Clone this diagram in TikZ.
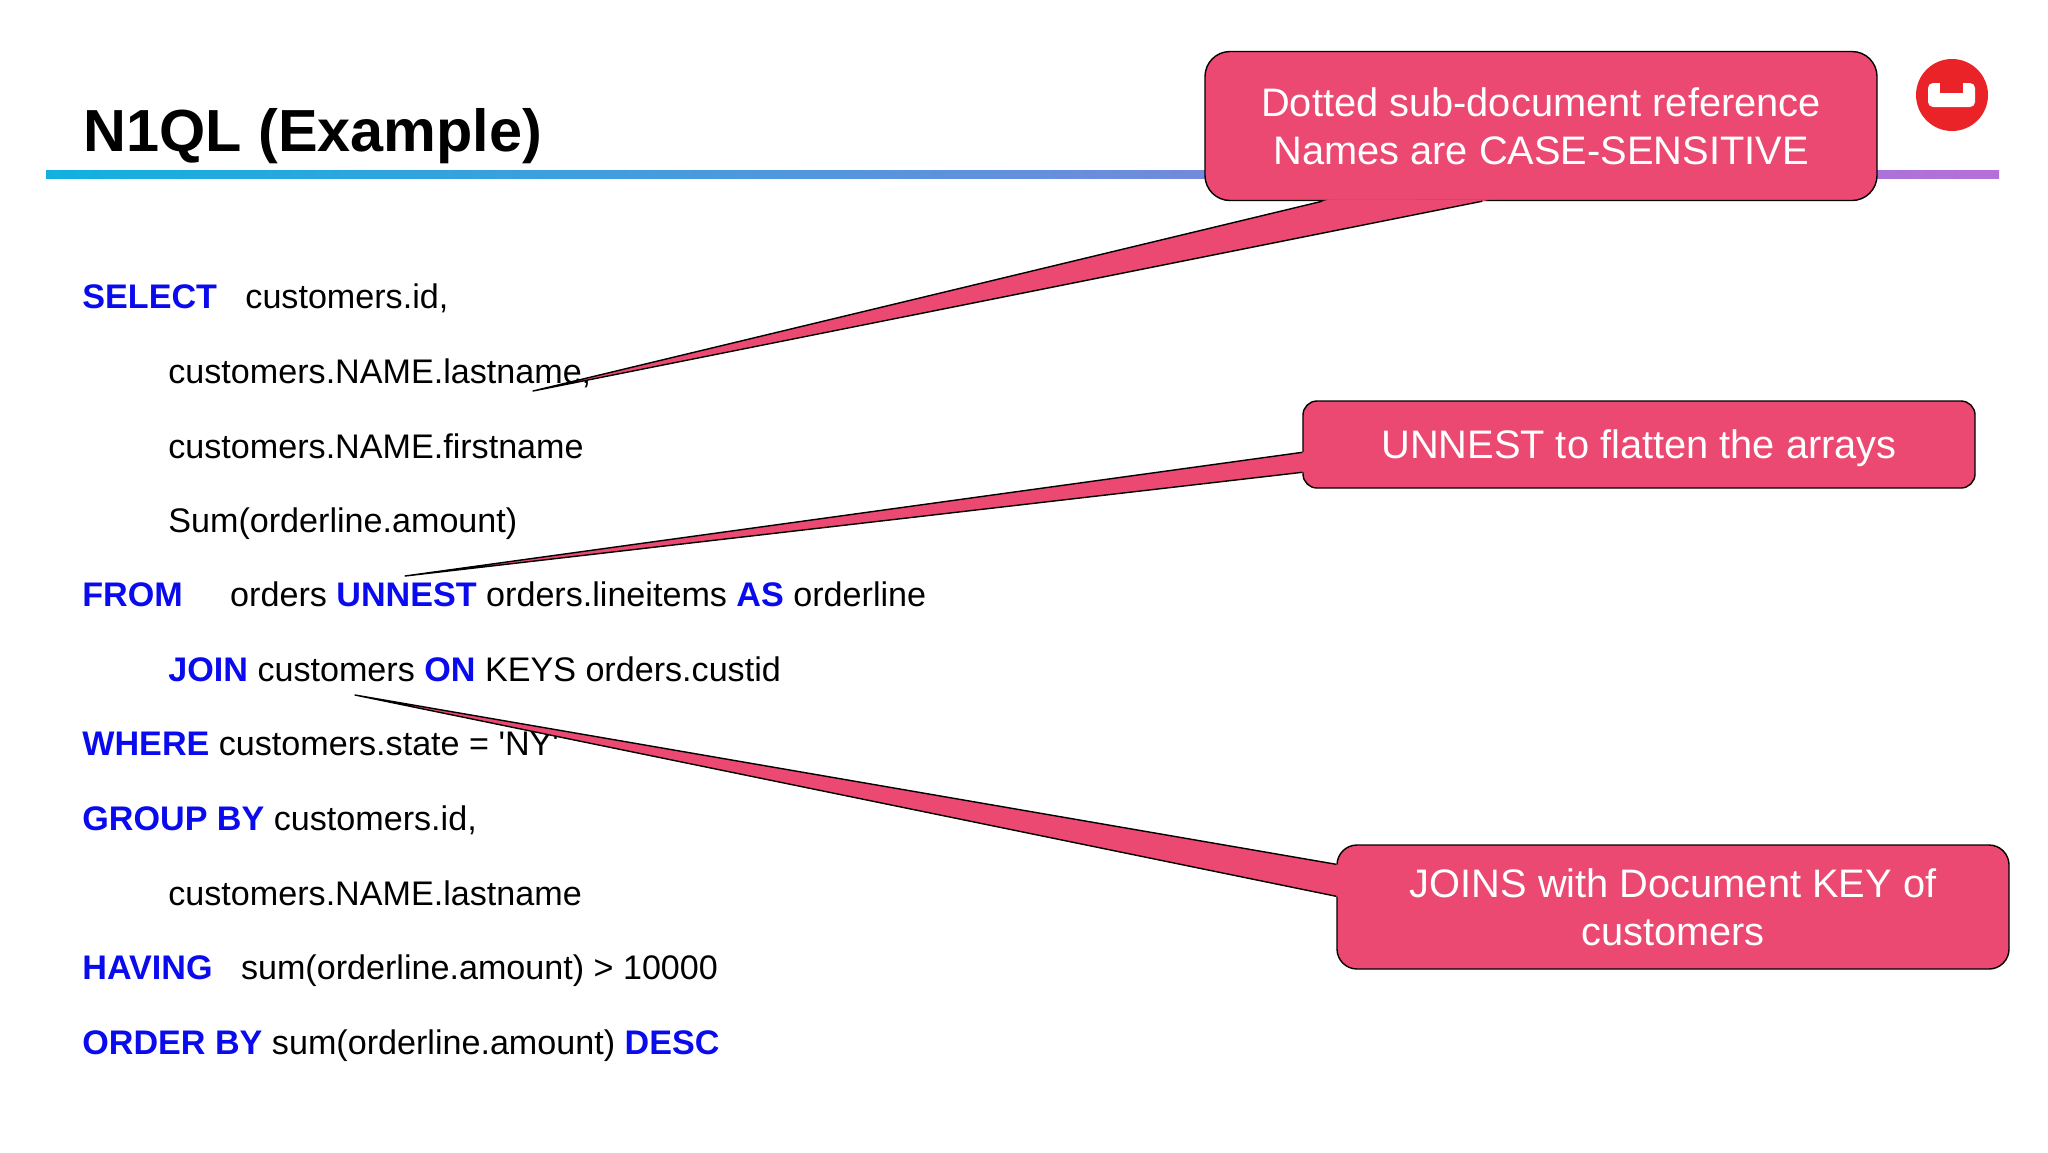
\documentclass[tikz,border=0pt]{standalone}
\usepackage{fontspec}
\setmainfont{Liberation Sans}
\usetikzlibrary{calc}
\definecolor{calloutpink}{HTML}{EB4971}
\definecolor{kwblue}{HTML}{0A0AEE}
\definecolor{logored}{HTML}{EA2328}
\definecolor{rulestart}{HTML}{12B0E0}
\definecolor{rulemid}{HTML}{6F9BE0}
\definecolor{ruleend}{HTML}{B56FD8}
\newcommand{\kw}[1]{\textcolor{kwblue}{\textbf{#1}}}
\newcommand{\tailfrom}[3]{%
  \fill[calloutpink] (#1) -- (#2) -- ($(#2)!-4pt!(#1)$) -- ($(#3)!-4pt!(#1)$) -- (#3) -- cycle;
  \draw[tailedge] (#2) -- (#1) -- (#3);}
\tikzset{
  x=0.5pt,y=-0.5pt,
  codeline/.style={anchor=base west,inner sep=0pt,font=\fontsize{17.06}{21}\selectfont},
  calloutbox/.style={draw=black,line width=0.7pt,fill=calloutpink,text=white,align=center,
    inner sep=0pt,font=\fontsize{19.9}{24}\selectfont},
  tailedge/.style={draw=black,line width=0.7pt,line join=round}
}
\begin{document}
\begin{tikzpicture}
  \useasboundingbox (0,0) rectangle (2048,1152);
  \node[anchor=base west,inner sep=0pt,font=\fontsize{29.7}{36}\selectfont\bfseries] (title) at (83,151) {N1QL (Example)};
  \shade[left color=rulestart,middle color=rulemid,right color=ruleend,shading angle=90] (46,170) rectangle (1999,178);

  % code lines
  \foreach \row/\xpos/\ypos/\txt in {%
    select/82/308/{\kw{SELECT}\ \ \ customers.id,},
    lastname/168/383/{customers.NAME.lastname,},
    firstname/168/458/{customers.NAME.firstname},
    sum/168/532/{Sum(orderline.amount)},
    from/82/606/{\kw{FROM}\ \ \ \ \ orders \kw{UNNEST} orders.lineitems \kw{AS} orderline},
    join/168/681/{\kw{JOIN} customers \kw{ON} KEYS orders.custid},
    where/82/755/{\kw{WHERE} customers.state = \textquotesingle NY\textquotesingle},
    group/82/830/{\kw{GROUP BY} customers.id,},
    lastnameb/168/905/{customers.NAME.lastname},
    having/82/979/{\kw{HAVING}\ \ \ sum(orderline.amount) > 10000},
    order/82/1054/{\kw{ORDER BY} sum(orderline.amount) \kw{DESC}}}
    \node[codeline] (\row) at (\xpos,\ypos) {\txt};

  % logo
  \node[circle,fill=logored,inner sep=0pt,minimum size=36pt] (logo) at (1952,95) {};
  \fill[white,rounded corners=2.5pt] (1928,83) rectangle (1975,107);
  \fill[logored] (1940,82) rectangle (1963,93);

  % callouts
  \node[calloutbox,minimum width=336pt,minimum height=74.5pt,rounded corners=12.5pt] (dotted) at (1541,126)
    {Dotted sub-document reference\\Names are CASE-SENSITIVE};
  \coordinate (dottedtip) at (533,391);
  \coordinate (dotteda) at ($(dotted.south west)+(118,0)$);
  \coordinate (dottedb) at ($(dotted.south west)+(278,0)$);
  \tailfrom{dottedtip}{dotteda}{dottedb}

  \node[calloutbox,minimum width=336pt,minimum height=43.5pt,rounded corners=7pt,text height=14pt,text depth=0pt] (unnest) at (1639,444.5)
    {UNNEST to flatten the arrays};
  \coordinate (unnesttip) at (405,576);
  \coordinate (unnesta) at ($(unnest.north west)+(0,52)$);
  \coordinate (unnestb) at ($(unnest.north west)+(0,72)$);
  \tailfrom{unnesttip}{unnesta}{unnestb}

  \node[calloutbox,minimum width=336pt,minimum height=62pt,rounded corners=10pt] (joins) at (1673,907)
    {JOINS with Document KEY of\\customers};
  \coordinate (joinstip) at (355,695);
  \coordinate (joinsa) at ($(joins.north west)+(0,20)$);
  \coordinate (joinsb) at ($(joins.north west)+(0,52)$);
  \tailfrom{joinstip}{joinsa}{joinsb}
\end{tikzpicture}
\end{document}
